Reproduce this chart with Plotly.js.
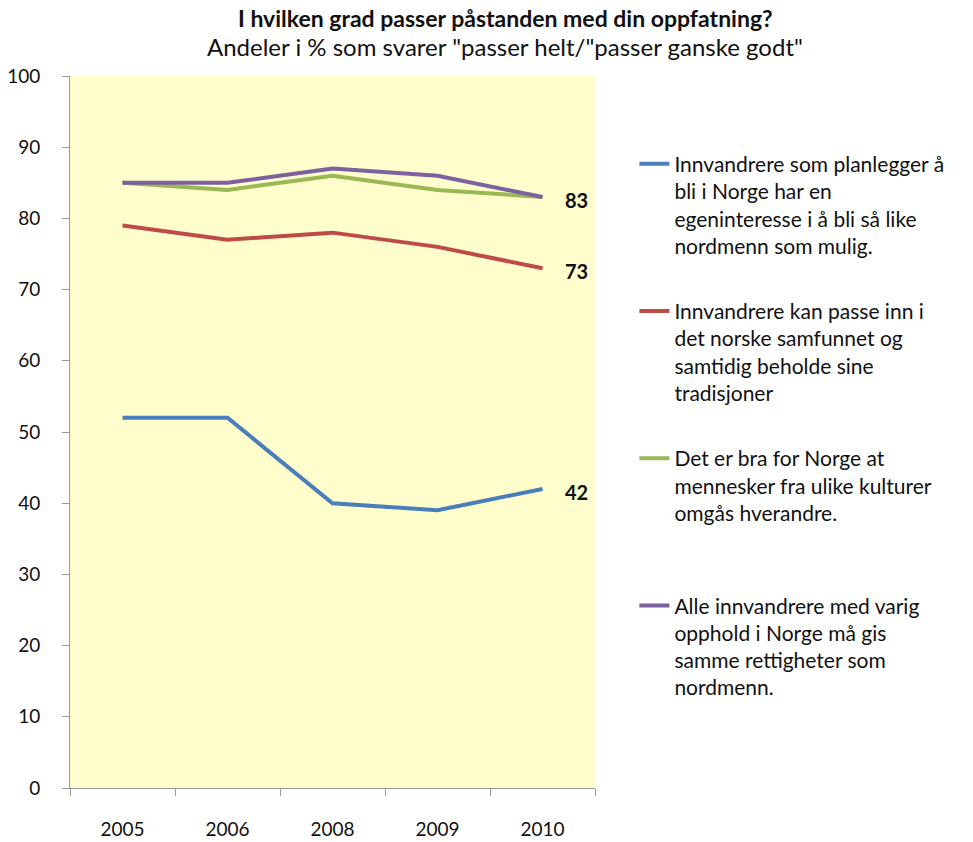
<!DOCTYPE html>
<html>
<head>
<meta charset="utf-8">
<script src="https://cdn.plot.ly/plotly-3.0.1.min.js"></script>
<style>body{margin:0;background:#fff}</style>
</head>
<body>
<div id="chart" style="width:973px;height:842px"></div>
<script>
var years = ['2005', '2006', '2008', '2009', '2010'];

var planlegger = [52, 52, 40, 39, 42];
var passeInn = [79, 77, 78, 76, 73];
var braForNorge = [85, 84, 86, 84, 83];
var sammeRettigheter = [85, 85, 87, 86, 83];

var names = [
    'Innvandrere som planlegger å<br>bli i Norge har en<br>egeninteresse i å bli så like<br>nordmenn som mulig.',
    'Innvandrere kan passe inn i<br>det norske samfunnet og<br>samtidig beholde sine<br>tradisjoner',
    'Det er bra for Norge at<br>mennesker fra ulike kulturer<br>omgås hverandre.<br> ',
    'Alle innvandrere med varig<br>opphold i Norge må gis<br>samme rettigheter som<br>nordmenn.'
];
var colors = ['#4A7EBB', '#BE4B48', '#98B954', '#7D60A0'];
var series = [planlegger, passeInn, braForNorge, sammeRettigheter];

var titleText = 'I hvilken grad passer påstanden med din oppfatning?';
var subtitleText = 'Andeler i % som svarer "passer helt/"passer ganske godt"';

var data = series.map(function (vals, i) {
    return {
        x: years,
        y: vals,
        mode: 'lines',
        name: names[i],
        legendgroup: 'g' + i,
        line: {color: colors[i], width: 4},
        hoverinfo: 'skip'
    };
});

// end labels for the 2010 values (category axis -> use the index)
var labelled = [planlegger, passeInn, sammeRettigheter];
var annotations = labelled.map(function (vals) {
    return {
        x: years.length - 1,
        y: vals[vals.length - 1],
        xref: 'x', yref: 'y',
        text: '<b>' + vals[vals.length - 1] + '</b>',
        showarrow: false,
        xanchor: 'left',
        yanchor: 'middle',
        xshift: 20,
        yshift: -3,
        font: {size: 20, color: '#111'}
    };
});

// title + subtitle
annotations.push({
    text: '<b>' + titleText + '</b>',
    xref: 'paper', yref: 'paper',
    x: 0.829, y: 1, yshift: 58,
    xanchor: 'center', yanchor: 'middle',
    showarrow: false,
    font: {size: 23, color: '#111'}
});
annotations.push({
    text: subtitleText,
    xref: 'paper', yref: 'paper',
    x: 0.829, y: 1, yshift: 30,
    xanchor: 'center', yanchor: 'middle',
    showarrow: false,
    font: {size: 24, color: '#111'}
});

var layout = {
    width: 973,
    height: 842,
    margin: {l: 70, r: 378, t: 76, b: 54},
    paper_bgcolor: '#ffffff',
    plot_bgcolor: '#FEFDCB',
    font: {family: 'Lato, "Open Sans", sans-serif', color: '#111', size: 18},
    xaxis: {
        type: 'category',
        range: [-0.5, years.length - 0.5],
        tickson: 'boundaries',
        ticks: 'outside',
        ticklen: 7,
        tickcolor: '#999',
        tickangle: 0,
        showline: true,
        linecolor: '#999',
        linewidth: 1,
        showgrid: false,
        zeroline: false,
        ticklabelstandoff: 24,
        tickfont: {size: 19, color: '#111'}
    },
    yaxis: {
        range: [0, 100],
        dtick: 10,
        ticks: 'outside',
        ticklen: 7,
        tickcolor: '#999',
        showline: true,
        linecolor: '#999',
        linewidth: 1,
        showgrid: false,
        zeroline: false,
        ticklabelstandoff: 18,
        tickfont: {size: 19, color: '#111'}
    },
    showlegend: true,
    legend: {
        x: 1.075,
        y: 0.905,
        xanchor: 'left',
        yanchor: 'top',
        valign: 'top',
        traceorder: 'grouped',
        tracegroupgap: 35,
        bgcolor: 'rgba(0,0,0,0)',
        font: {size: 21, color: '#111'}
    },
    annotations: annotations
};

Plotly.newPlot('chart', data, layout, {displayModeBar: false, staticPlot: true});
</script>
</body>
</html>
